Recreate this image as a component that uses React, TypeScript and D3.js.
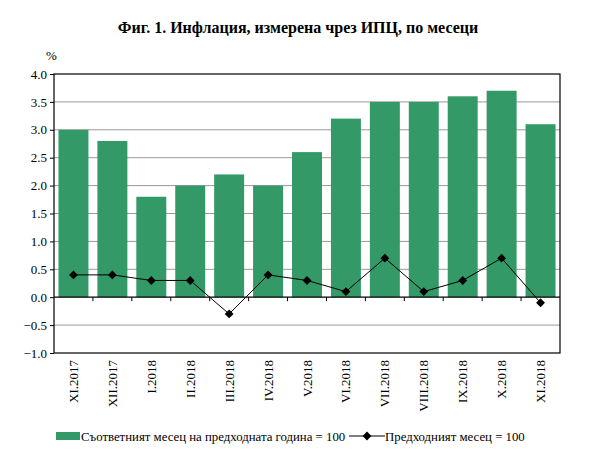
import React, { useEffect, useRef } from 'react';
import * as d3 from 'd3';

const months = [
  'XI.2017', 'XII.2017', 'I.2018', 'II.2018', 'III.2018', 'IV.2018', 'V.2018',
  'VI.2018', 'VII.2018', 'VIII.2018', 'IX.2018', 'X.2018', 'XI.2018',
];
const yearOnYear = [3.0, 2.8, 1.8, 2.0, 2.2, 2.0, 2.6, 3.2, 3.5, 3.5, 3.6, 3.7, 3.1];
const monthOnMonth = [0.4, 0.4, 0.3, 0.3, -0.3, 0.4, 0.3, 0.1, 0.7, 0.1, 0.3, 0.7, -0.1];
const yTicks = [-1, -0.5, 0, 0.5, 1, 1.5, 2, 2.5, 3, 3.5, 4];

const title = 'Фиг. 1. Инфлация, измерена чрез ИПЦ, по месеци';
const legendBars = 'Съответният месец на предходната година = 100';
const legendLine = 'Предходният месец = 100';

const W = 590;
const H = 455;
const FONT = '"Liberation Serif", "Times New Roman", serif';
const GREEN = '#339966';
const FS = 13;

export default function App() {
  const svgRef = useRef<SVGSVGElement>(null);

  useEffect(() => {
    if (!svgRef.current) return;
    const svg = d3.select(svgRef.current);
    svg.selectAll('*').remove();

    const margin = { top: 74, right: 30, bottom: 102, left: 54 };
    const innerW = W - margin.left - margin.right;
    const innerH = H - margin.top - margin.bottom;

    const x = d3.scaleBand<string>().domain(months).range([0, innerW]).paddingInner(0.23).paddingOuter(0.115);
    const xOuter = d3.scaleBand<string>().domain(months).range([0, innerW]);
    const y = d3.scaleLinear().domain([-1, 4]).range([innerH, 0]);

    svg.append('rect').attr('width', W).attr('height', H).attr('fill', '#fff');

    svg.append('text')
      .attr('x', 298)
      .attr('y', 33)
      .attr('text-anchor', 'middle')
      .style('font-family', FONT)
      .attr('font-weight', 'bold')
      .attr('font-size', 16)
      .text(title);

    svg.append('text')
      .attr('x', 46)
      .attr('y', 60)
      .style('font-family', FONT)
      .attr('font-size', FS)
      .text('%');

    const g = svg.append('g').attr('transform', `translate(${margin.left},${margin.top})`);

    // gridlines
    g.selectAll('line.grid')
      .data(yTicks.filter(t => t !== 0 && t !== 4 && t !== -1))
      .join('line')
      .attr('class', 'grid')
      .attr('x1', 0)
      .attr('x2', innerW)
      .attr('y1', d => y(d))
      .attr('y2', d => y(d))
      .attr('stroke', '#999')
      .attr('stroke-width', 1);

    // bars
    g.selectAll('rect.bar')
      .data(yearOnYear)
      .join('rect')
      .attr('class', 'bar')
      .attr('x', (_, i) => x(months[i])!)
      .attr('y', d => y(d))
      .attr('width', x.bandwidth())
      .attr('height', d => y(0) - y(d))
      .attr('fill', GREEN);

    // zero axis with ticks
    g.append('line')
      .attr('x1', 0).attr('x2', innerW)
      .attr('y1', y(0)).attr('y2', y(0))
      .attr('stroke', '#000').attr('stroke-width', 1.2);

    g.selectAll('line.xtick')
      .data(months.slice(1))
      .join('line')
      .attr('class', 'xtick')
      .attr('x1', d => xOuter(d)!)
      .attr('x2', d => xOuter(d)!)
      .attr('y1', y(0))
      .attr('y2', y(0) + 4)
      .attr('stroke', '#000');

    // y axis
    const yAxis = d3.axisLeft(y).tickValues(yTicks).tickSize(4).tickPadding(3).tickFormat(d3.format('.1f'));
    g.append('g')
      .call(yAxis)
      .call(s => s.select('.domain').remove())
      .call(s => s.selectAll('text').style('font-family', FONT).attr('font-size', FS).attr('fill', '#000'));

    // border
    g.append('rect')
      .attr('width', innerW)
      .attr('height', innerH)
      .attr('fill', 'none')
      .attr('stroke', '#000')
      .attr('stroke-width', 1.2);

    // line series
    const cx = (i: number) => x(months[i])! + x.bandwidth() / 2;
    const line = d3.line<number>().x((_, i) => cx(i)).y(d => y(d));
    g.append('path')
      .datum(monthOnMonth)
      .attr('d', line)
      .attr('fill', 'none')
      .attr('stroke', '#000')
      .attr('stroke-width', 1);

    const diamond = d3.symbol().type(d3.symbolDiamond2).size(50);
    g.selectAll('path.pt')
      .data(monthOnMonth)
      .join('path')
      .attr('class', 'pt')
      .attr('d', diamond)
      .attr('transform', (d, i) => `translate(${cx(i)},${y(d)})`)
      .attr('fill', '#000');

    // x labels
    g.selectAll('text.xlab')
      .data(months)
      .join('text')
      .attr('class', 'xlab')
      .attr('transform', d => `translate(${x(d)! + x.bandwidth() / 2 + 4.5},${innerH + 7}) rotate(-90)`)
      .attr('text-anchor', 'end')
      .style('font-family', FONT)
      .attr('font-size', FS)
      .text(d => d);

    // legend
    const lg = svg.append('g').attr('transform', 'translate(0,436)');
    lg.append('rect').attr('x', 56).attr('y', -4).attr('width', 24).attr('height', 8).attr('fill', GREEN);
    lg.append('text')
      .attr('x', 81).attr('y', 4.5)
      .style('font-family', FONT).attr('font-size', 12.8)
      .text(legendBars);
    lg.append('line').attr('x1', 349).attr('x2', 385).attr('y1', 0).attr('y2', 0).attr('stroke', '#000');
    lg.append('path').attr('d', diamond).attr('transform', 'translate(367,0)').attr('fill', '#000');
    lg.append('text')
      .attr('x', 385).attr('y', 4.5)
      .style('font-family', FONT).attr('font-size', 12.8)
      .text(legendLine);
  }, []);

  return (
    <svg
      ref={svgRef}
      width={W}
      height={H}
      style={{ position: 'absolute', left: 0, top: 0 }}
    />
  );
}
